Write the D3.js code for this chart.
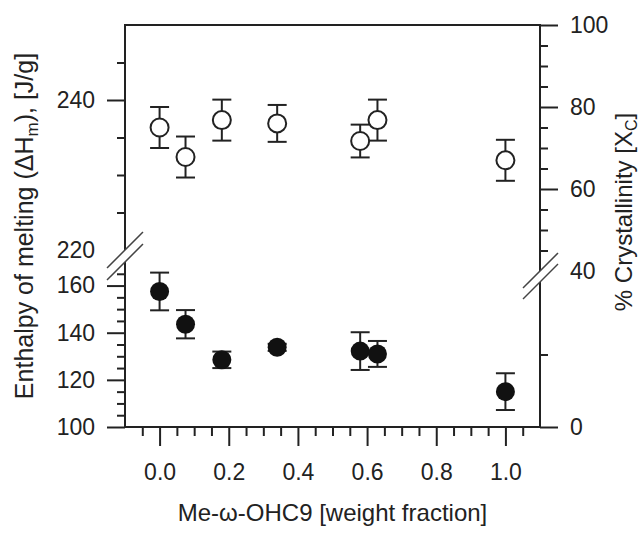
<!DOCTYPE html>
<html>
<head>
<meta charset="utf-8">
<script src="https://cdn.jsdelivr.net/npm/d3@7"></script>
<style>
  html, body { margin: 0; padding: 0; background: #fff; }
  svg { display: block; }
  text { font-family: Arial, "Liberation Sans", Helvetica, sans-serif; fill: #222; }
</style>
</head>
<body>
<svg id="chart" width="642" height="535"></svg>
<script>
// ---- data ----
const weightFraction = [0, 0.075, 0.18, 0.34, 0.58, 0.63, 1.0];
const enthalpy       = [157.5, 143.6, 128.5, 133.8, 132.2, 131.0, 115.0];
const enthalpyErr    = [8, 6, 3.5, 1.5, 8, 5.5, 7.8];
const crystallinity  = [75.0, 67.8, 76.8, 76.0, 71.7, 76.8, 67.0];
const crystErr       = [5, 5, 5, 4.5, 4, 5, 5];

// ---- tick values ----
const xMajorTicks = [0, 0.2, 0.4, 0.6, 0.8, 1.0];
const xMinorTicks = [-0.05, 0.05, 0.1, 0.15, 0.25, 0.3, 0.35, 0.45, 0.5, 0.55, 0.65, 0.7, 0.75, 0.85, 0.9, 0.95, 1.05];
const leftLowMajor = [100, 120, 140, 160];
const leftLowMinor = [105, 110, 115, 125, 130, 135, 145, 150, 155, 165];
const leftHighMajor = [240];
const leftHighLabelOnly = [220];
const leftHighMinor = [225, 230, 235, 245];
const rightHighMajor = [60, 80, 100];
const rightHighLabelOnly = [40];
const rightHighMinor = [45, 50, 55, 65, 70, 75, 85, 90, 95];
const rightLowMajor = [0];
const rightLowMinor = [20];

const svg = d3.select("#chart");
const L = 125, R = 540, T = 25, B = 427;
const ink = "#222";

const x = d3.scaleLinear().domain([-0.1, 1.1]).range([L, R]);
const yLlo = d3.scaleLinear().domain([100, 170]).range([B, 262]);
const yLhi = d3.scaleLinear().domain([220, 250]).range([250, T]);
const yRlo = d3.scaleLinear().domain([0, 40]).range([B, 282]);
const yRhi = d3.scaleLinear().domain([40, 100]).range([271, T]);

function styleAxis(g, fs) {
  g.select(".domain").remove();
  g.selectAll("line").attr("stroke", ink).attr("stroke-width", 2);
  g.selectAll("text").attr("font-size", fs).attr("fill", ink)
   .style("font-family", "Arial, 'Liberation Sans', sans-serif");
}
const FS = 23;

// axis lines / frame
const frame = svg.append("g").attr("stroke", ink).attr("stroke-width", 2).attr("fill", "none");
frame.append("line").attr("x1", L).attr("x2", R).attr("y1", T).attr("y2", T);
frame.append("line").attr("x1", L - 1).attr("x2", R + 1).attr("y1", B).attr("y2", B);
frame.append("line").attr("x1", L).attr("x2", L).attr("y1", T - 1).attr("y2", yLhi(220));
frame.append("line").attr("x1", L).attr("x2", L).attr("y1", yLlo(170)).attr("y2", B);
frame.append("line").attr("x1", R).attr("x2", R).attr("y1", T - 1).attr("y2", yRhi(40));
frame.append("line").attr("x1", R).attr("x2", R).attr("y1", yRlo(40)).attr("y2", B);

// bottom axis
svg.append("g").attr("transform", `translate(0,${B})`)
  .call(d3.axisBottom(x).tickValues(xMajorTicks).tickSize(19).tickPadding(18).tickFormat(d3.format(".1f")))
  .call(g => styleAxis(g, FS));
svg.append("g").attr("transform", `translate(0,${B})`)
  .call(d3.axisBottom(x).tickValues(xMinorTicks).tickSize(9).tickFormat(""))
  .call(g => styleAxis(g, FS));

// left axis (broken)
function leftAxis(scale, major, minor, labelOnly) {
  svg.append("g").attr("transform", `translate(${L},0)`)
    .call(d3.axisLeft(scale).tickValues(major).tickSize(18).tickPadding(12).tickFormat(d3.format("d")))
    .call(g => styleAxis(g, FS));
  svg.append("g").attr("transform", `translate(${L},0)`)
    .call(d3.axisLeft(scale).tickValues(minor).tickSize(8).tickFormat(""))
    .call(g => styleAxis(g, FS));
  if (labelOnly.length) {
    svg.append("g").attr("transform", `translate(${L},0)`)
      .call(d3.axisLeft(scale).tickValues(labelOnly).tickSize(0).tickPadding(30).tickFormat(d3.format("d")))
      .call(g => styleAxis(g, FS));
  }
}
leftAxis(yLlo, leftLowMajor, leftLowMinor, []);
leftAxis(yLhi, leftHighMajor, leftHighMinor, leftHighLabelOnly);

// right axis (broken)
function rightAxis(scale, major, minor, labelOnly) {
  svg.append("g").attr("transform", `translate(${R},0)`)
    .call(d3.axisRight(scale).tickValues(major).tickSize(18).tickPadding(12).tickFormat(d3.format("d")))
    .call(g => styleAxis(g, FS));
  svg.append("g").attr("transform", `translate(${R},0)`)
    .call(d3.axisRight(scale).tickValues(minor).tickSize(8).tickFormat(""))
    .call(g => styleAxis(g, FS));
  if (labelOnly.length) {
    svg.append("g").attr("transform", `translate(${R},0)`)
      .call(d3.axisRight(scale).tickValues(labelOnly).tickSize(0).tickPadding(30).tickFormat(d3.format("d")))
      .call(g => styleAxis(g, FS));
  }
}
rightAxis(yRhi, rightHighMajor, rightHighMinor, rightHighLabelOnly);
rightAxis(yRlo, rightLowMajor, rightLowMinor, []);

// break marks
const brk = svg.append("g").attr("stroke", "#444").attr("stroke-width", 1.5);
[yLhi(220), yLlo(170)].forEach(y => {
  brk.append("line").attr("x1", L - 18).attr("y1", y + 18).attr("x2", L + 18).attr("y2", y - 18);
});
[yRhi(40), yRlo(40)].forEach(y => {
  brk.append("line").attr("x1", R - 17).attr("y1", y + 17).attr("x2", R + 18).attr("y2", y - 18);
});

// error bars + markers
const cap = 9.5;
function errorBars(vals, errs, scale) {
  const g = svg.append("g").attr("stroke", ink).attr("stroke-width", 2);
  vals.forEach((v, i) => {
    const cx = x(weightFraction[i]);
    const yt = scale(v + errs[i]), yb = scale(v - errs[i]);
    g.append("line").attr("x1", cx).attr("x2", cx).attr("y1", yt).attr("y2", yb);
    g.append("line").attr("x1", cx - cap).attr("x2", cx + cap).attr("y1", yt).attr("y2", yt);
    g.append("line").attr("x1", cx - cap).attr("x2", cx + cap).attr("y1", yb).attr("y2", yb);
  });
}
errorBars(enthalpy, enthalpyErr, yLlo);
errorBars(crystallinity, crystErr, yRhi);

svg.append("g").selectAll("circle").data(enthalpy).join("circle")
  .attr("cx", (d, i) => x(weightFraction[i])).attr("cy", d => yLlo(d))
  .attr("r", 9.5).attr("fill", "#111");

svg.append("g").selectAll("circle").data(crystallinity).join("circle")
  .attr("cx", (d, i) => x(weightFraction[i])).attr("cy", d => yRhi(d))
  .attr("r", 9).attr("fill", "#fff").attr("stroke", ink).attr("stroke-width", 2);

// axis titles
svg.append("text").attr("x", (L + R) / 2).attr("y", 521).attr("text-anchor", "middle")
  .attr("font-size", 24).text("Me-ω-OHC9 [weight fraction]");

const lt = svg.append("text").attr("transform", "translate(33,226) rotate(-90)")
  .attr("text-anchor", "middle").attr("font-size", 25);
lt.append("tspan").text("Enthalpy of melting (ΔH");
lt.append("tspan").attr("font-size", 17).attr("dy", 5).text("m");
lt.append("tspan").attr("dy", -5).text("), [J/g]");

const rt = svg.append("text").attr("transform", "translate(632,212) rotate(-90)")
  .attr("text-anchor", "middle").attr("font-size", 24);
rt.append("tspan").text("% Crystallinity [X");
rt.append("tspan").attr("font-size", 16).attr("dy", 5).text("C");
rt.append("tspan").attr("dy", -5).text("]");
</script>
</body>
</html>
